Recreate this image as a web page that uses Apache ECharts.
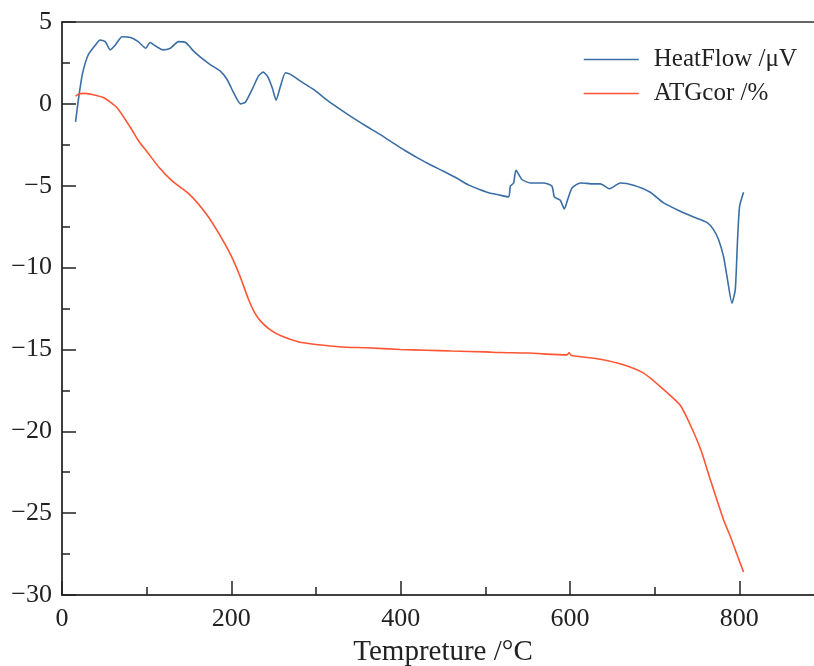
<!DOCTYPE html>
<html>
<head>
<meta charset="utf-8">
<script src="https://cdn.jsdelivr.net/npm/echarts@6/dist/echarts.min.js"></script>
<style>
  html, body { margin: 0; padding: 0; background: #fff; overflow: hidden; }
  #chart { width: 824px; height: 666px; }
</style>
</head>
<body>
<div id="chart"></div>
<script>
// HeatFlow curve (temperature °C, µV)
const heatT = [16, 19.5, 24, 31, 39.5, 45, 51, 57, 63, 71, 81, 90, 99, 104, 110, 119, 128, 137.5, 146, 154,
  163.5, 175, 187, 195, 202.5, 210.8, 216.6, 224.6, 232, 237.5, 242.6, 248.2, 252.9, 258, 264, 269.8, 281.6,
  297, 314.6, 330, 345, 360, 375, 390, 405, 420, 435, 450, 465, 480, 494, 505, 515, 527.5, 529.5, 533.4,
  536.2, 543.3, 553.1, 568.8, 578.7, 581.5, 588.5, 593.3, 597.2, 602.4, 612.2, 627.9, 635.8, 646.8, 659.4,
  675.1, 694.8, 710.5, 730.2, 745.9, 761.7, 769.5, 775.4, 781.3, 785.4, 791.3, 795.2, 797.9, 800.3, 805];
const heatV = [-1.1, 0.3, 1.8, 3.0, 3.6, 3.9, 3.8, 3.3, 3.6, 4.1, 4.05, 3.8, 3.4, 3.75, 3.55, 3.3, 3.4, 3.8, 3.75, 3.3,
  2.85, 2.4, 2.0, 1.49, 0.7, 0.0, 0.1, 0.88, 1.69, 1.94, 1.69, 1.0, 0.23, 1.08, 1.9, 1.8, 1.39,
  0.88, 0.17, -0.38, -0.9, -1.38, -1.85, -2.35, -2.85, -3.3, -3.72, -4.1, -4.5, -4.95, -5.25, -5.45, -5.55, -5.68, -5.03, -4.83,
  -4.06, -4.62, -4.83, -4.83, -5.03, -5.68, -5.89, -6.42, -5.85, -5.14, -4.83, -4.89, -4.89, -5.19, -4.83,
  -4.97, -5.4, -6.05, -6.56, -6.91, -7.24, -7.68, -8.29, -9.32, -10.54, -12.17, -11.35, -8.29, -6.26, -5.4];

// ATGcor curve (temperature °C, %)
const atgT = [16, 20, 25.7, 35.6, 49.4, 65, 81, 90.7, 100, 115, 130, 150, 170, 185, 200, 210, 220, 228, 235, 246,
  260, 280, 300, 330, 360, 400, 430, 460, 500, 517.6, 550, 580, 596.5, 599, 601, 635.8, 663, 687, 708.6, 730,
  742, 755, 766, 781.3, 790, 797, 805];
const atgV = [0.47, 0.6, 0.64, 0.57, 0.37, -0.24, -1.46, -2.28, -2.9, -3.9, -4.7, -5.5, -6.7, -7.9, -9.3, -10.5, -11.9, -12.8, -13.3, -13.8,
  -14.2, -14.55, -14.7, -14.85, -14.9, -15.0, -15.05, -15.1, -15.15, -15.19, -15.22, -15.3, -15.33, -15.2, -15.35, -15.6, -15.94, -16.45, -17.36, -18.4,
  -19.6, -21.2, -23.0, -25.4, -26.5, -27.5, -28.6];

const xTicks = [0, 200, 400, 600, 800];
const yTicks = [5, 0, -5, -10, -15, -20, -25, -30];

const serif = 'Liberation Serif';
const chart = echarts.init(document.getElementById('chart'));

function pairs(xs, ys) {
  return xs.map((x, i) => [x, ys[i]]);
}

chart.setOption({
  backgroundColor: '#ffffff',
  animation: false,
  grid: {
    left: 62, right: 0, top: 22, bottom: 71,
    containLabel: false,
    outerBoundsMode: 'none',
    show: true, borderColor: '#333', borderWidth: 1.5
  },
  legend: {
    orient: 'vertical',
    right: 22, top: 42,
    icon: 'rect',
    itemWidth: 55, itemHeight: 1.5, itemGap: 9,
    textStyle: { fontFamily: serif, fontSize: 25, color: '#222', padding: [0, 0, 0, 10] },
    data: ['HeatFlow /μV', 'ATGcor /%']
  },
  xAxis: {
    type: 'value',
    min: 0, max: 900, interval: 200,
    name: 'Tempreture /°C',
    nameLocation: 'middle',
    nameGap: 43,
    nameTextStyle: { fontFamily: serif, fontSize: 29, color: '#222' },
    axisLine: { onZero: false, lineStyle: { color: '#333', width: 1.5 } },
    axisTick: { inside: true, length: 14, lineStyle: { color: '#222', width: 1.5 } },
    minorTick: { show: true, splitNumber: 2, length: 8, lineStyle: { color: '#222', width: 1.5 } },
    splitLine: { show: false },
    axisLabel: {
      fontFamily: serif, fontSize: 26, color: '#222', margin: 11,
      formatter: v => xTicks.includes(v) ? String(v) : ''
    }
  },
  yAxis: {
    type: 'value',
    min: -30, max: 5, interval: 5,
    axisLine: { show: true, onZero: false, lineStyle: { color: '#333', width: 1.5 } },
    axisTick: { show: true, inside: true, length: 14, lineStyle: { color: '#222', width: 1.5 } },
    minorTick: { show: true, splitNumber: 2, length: 8, lineStyle: { color: '#222', width: 1.5 } },
    splitLine: { show: false },
    axisLabel: {
      fontFamily: serif, fontSize: 26, color: '#222', margin: 10,
      formatter: v => yTicks.includes(v) ? String(v).replace('-', '\u2212') : ''
    }
  },
  series: [
    {
      name: 'HeatFlow /μV',
      type: 'line',
      data: pairs(heatT, heatV),
      showSymbol: false,
      symbol: 'none',
      smooth: 0.2,
      lineStyle: { color: '#3a6ea5', width: 1.6 },
      itemStyle: { color: '#3a6ea5' }
    },
    {
      name: 'ATGcor /%',
      type: 'line',
      data: pairs(atgT, atgV),
      showSymbol: false,
      symbol: 'none',
      smooth: 0.2,
      lineStyle: { color: '#ff5533', width: 1.6 },
      itemStyle: { color: '#ff5533' }
    }
  ]
});
</script>
</body>
</html>
